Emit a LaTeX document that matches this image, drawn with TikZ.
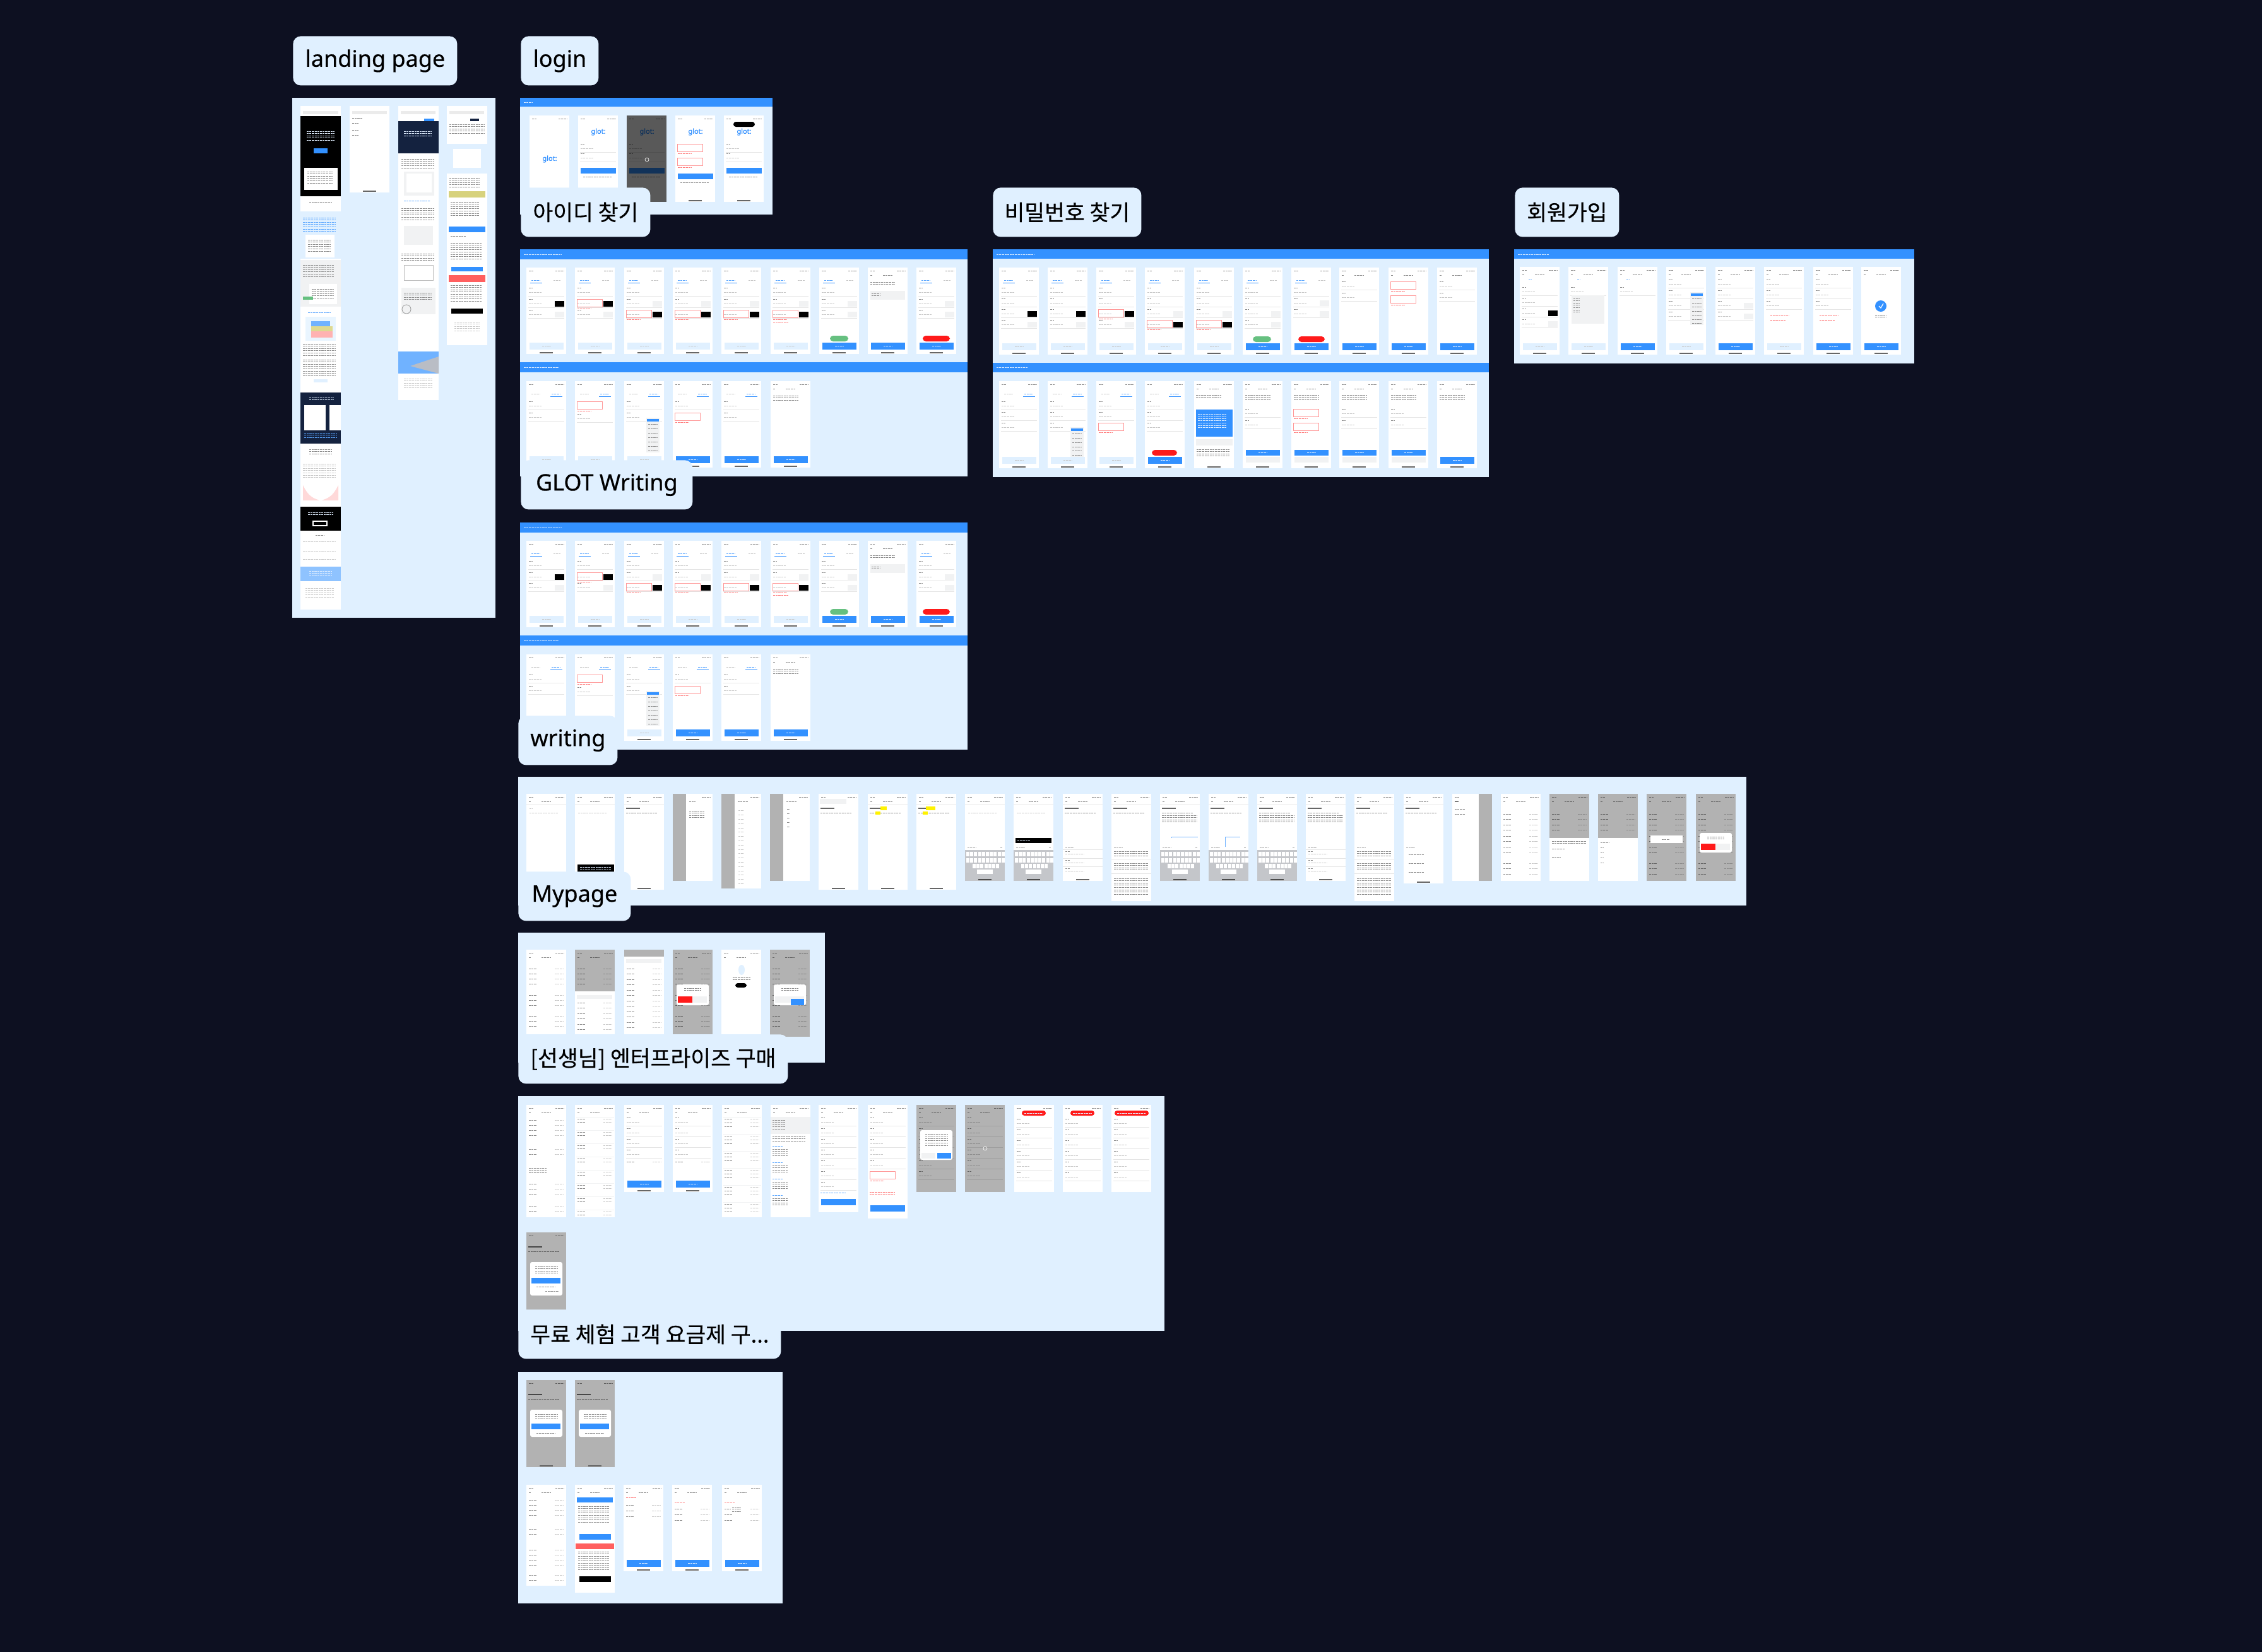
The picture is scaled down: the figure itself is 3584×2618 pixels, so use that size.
\documentclass[tikz,border=0pt]{standalone}
\usepackage{fontspec}
\setmainfont{Noto Sans}[FakeBold=0.5]
\newfontfamily\kofont{Noto Sans CJK KR}[FakeBold=0.5]
\newfontfamily\logofont{Noto Sans}[FakeBold=0.6]

\definecolor{board}{HTML}{0D1021}
\definecolor{panel}{HTML}{E0F0FF}
\definecolor{accent}{HTML}{3391FF}
\definecolor{ink}{HTML}{3A3A3A}
\definecolor{ghost}{HTML}{F1F2F3}
\definecolor{alert}{HTML}{FF1A1A}
\definecolor{okgreen}{HTML}{66C080}
\definecolor{navy}{HTML}{14223F}
\definecolor{kbd}{HTML}{C4C6CA}

\tikzset{
  boardlabel/.style={fill=panel,rounded corners=6pt,anchor=north west,minimum height=39pt,minimum width=#1,inner xsep=0pt,inner ysep=0pt,text=black,font=\fontsize{18}{20}\selectfont},
  kolabel/.style={boardlabel=#1,font=\kofont\fontsize{17.3}{20}\selectfont},
  logomark/.style={text=accent,inner sep=0pt,font=\logofont\fontsize{5.5}{6}\selectfont},
  txt/.style={line width=.45pt,color=black!45,dash pattern=on 1.6pt off .5pt},
  ltxt/.style={line width=.4pt,color=black!22,dash pattern=on 1.6pt off .5pt},
  rtxt/.style={line width=.45pt,color=alert!60,dash pattern=on 1.6pt off .5pt},
  btxt/.style={line width=.5pt,color=accent!80,dash pattern=on 1.6pt off .5pt},
  wtxt/.style={line width=.5pt,color=white!85!accent,dash pattern=on 1.6pt off .5pt},
  hair/.style={line width=.25pt,color=black!10},
  errline/.style={line width=.25pt,color=alert!45}
}

\def\phw{63}
\newcommand\phone[4]{%
  \begin{scope}[shift={(#1,#2)}]
    \def\ph{#3}
    \fill[white] (0,0) rectangle (\phw,#3);
    \draw[txt] (4,5) -- ++(7,0);
    \draw[txt] (46,5) -- ++(13,0);
    #4
  \end{scope}}
\newcommand\titlebar{\draw[txt] (4,12) -- ++(3,0); \draw[txt] (24,12) -- ++(15,0);}
\newcommand\homebar{\fill[black!60] (21,\ph-3) rectangle ++(21,2);}
\newcommand\mainbtn[1][accent]{\fill[#1] (5,\ph-18) rectangle ++(54,11); \draw[wtxt] (25,\ph-12.5) -- ++(13,0); \homebar}
\newcommand\palebtn{\fill[panel] (5,\ph-18) rectangle ++(54,11); \draw[ltxt] (25,\ph-12.5) -- ++(13,0); \homebar}
\newcommand\twobtn{\fill[accent] (5,109) rectangle ++(54,9); \draw[wtxt] (25,113.5) -- ++(13,0); \fill[ghost] (5,120) rectangle ++(54,9); \homebar}
\newcommand\tabsleft{\draw[btxt] (8,20) -- ++(14,0); \draw[line width=.4pt,accent] (6,24) -- ++(19,0); \draw[ltxt] (43,20) -- ++(11,0);}
\newcommand\tabsright{\draw[ltxt] (8,20) -- ++(14,0); \draw[btxt] (40,20) -- ++(14,0); \draw[line width=.4pt,accent] (38,24) -- ++(19,0);}
\newcommand\fieldrow[1]{\draw[txt] (4,#1) -- ++(6,0); \draw[ltxt] (4,#1+7) -- ++(20,0); \draw[hair] (3,#1+13) -- ++(57,0);}
\newcommand\blackbtn[1]{\fill[black] (45,#1) rectangle ++(15,9);}
\newcommand\greybtn[1]{\fill[ghost] (45,#1) rectangle ++(15,9);}
\newcommand\errfield[1]{\draw[errline] (3,#1) rectangle ++(40,12); \draw[rtxt] (4,#1+15) -- ++(22,0);}
\newcommand\pill[3]{\fill[#1,rounded corners=2.5pt] (#2,\ph-29) rectangle (#3,\ph-20);}
\newcommand\textblock[5][txt]{\foreach \tk in {1,...,#4} \draw[#1] (#2,{#3+(\tk-1)*3.6}) -- ++(#5,0);}
\newcommand\dropmenu[4]{\fill[ghost] (#1,#2) rectangle ++(#3,#4); \fill[accent] (#1+1,#2+2) rectangle ++(#3-2,4); \foreach \dk in {1,...,7} \draw[txt] (#1+3,{#2+4+\dk*#4/8}) -- ++(#3-6,0);}
\newcommand\dimmer{\fill[black,fill opacity=.3] (0,0) rectangle (\phw,\ph);}
\newcommand\dialog[3]{\fill[white,rounded corners=1.5pt] (6,#1) rectangle (57,#1+#2); \textblock{18}{#1+6}{2}{27}\fill[#3] (8,#1+#2-14) rectangle ++(23,10); \fill[ghost] (31,#1+#2-14) rectangle ++(23,10);}
\newcommand\keyboard{\fill[kbd] (0,89) rectangle (\phw,\ph); \draw[txt] (4,84) -- ++(14,0); \draw[txt] (56,84) -- ++(3,0);
  \foreach \ky in {92,102} \foreach \kx in {2,8.2,...,58} \fill[white] (\kx,\ky) rectangle ++(5,7);
  \foreach \kx in {12,18.2,...,50} \fill[white] (\kx,111) rectangle ++(5,7);
  \fill[white] (19,120) rectangle ++(25,7); \fill[black!70] (21,\ph-3) rectangle ++(21,2);}
\newcommand\docbar{\titlebar\draw[hair] (0,17) -- ++(\phw,0);}
\newcommand\dochead{\fill[black!60] (3,22) rectangle ++(22,2); \draw[txt] (3,30) -- ++(50,0);}
\newcommand\drawer{\fill[black!30] (0,0) rectangle (21,\ph); \draw[txt] (26,12) -- ++(10,0);\textblock{26}{27}{4}{24}}
\newcommand\listrows[3]{\foreach \lk in {1,...,#2} {\draw[txt] (4,{#1+(\lk-1)*#3}) -- ++(12,0); \draw[ltxt] (45,{#1+(\lk-1)*#3}) -- ++(14,0);}}
\newcommand\idrowone{\tabsleft\fieldrow{32}\fieldrow{50}\fieldrow{67}}

\newcommand\glotpanel[1]{%
  \begin{scope}[shift={(824,#1)}]
    \fill[panel] (0,0) rectangle (709,360);
    \fill[accent] (0,0) rectangle (709,16);
    \fill[accent] (0,179) rectangle (709,195);
    \draw[wtxt] (6,8) -- ++(60,0);
    \draw[wtxt] (6,187) -- ++(55,0);
    \phone{10}{29}{137}{\idrowone\blackbtn{53}\greybtn{70}\palebtn}
    \phone{87}{29}{137}{\idrowone\errfield{50}\blackbtn{53}\greybtn{70}\palebtn}
    \phone{165}{29}{137}{\idrowone\greybtn{53}\errfield{67}\blackbtn{70}\palebtn}
    \phone{242}{29}{137}{\idrowone\greybtn{53}\errfield{67}\blackbtn{70}\palebtn}
    \phone{319}{29}{137}{\idrowone\greybtn{53}\errfield{67}\blackbtn{70}\palebtn}
    \phone{397}{29}{137}{\idrowone\greybtn{53}\errfield{67}\draw[rtxt] (4,86) -- ++(25,0);\blackbtn{70}\palebtn}
    \phone{474}{29}{137}{\idrowone\greybtn{53}\greybtn{70}\pill{okgreen}{17}{46}\mainbtn}
    \phone{551}{29}{137}{\titlebar\textblock{4}{23}{2}{38}\fill[ghost] (4,37) rectangle ++(55,14);\textblock{6}{41}{2}{14}\mainbtn}
    \phone{628}{29}{137}{\idrowone\greybtn{53}\greybtn{70}\pill{alert}{10}{53}\mainbtn}
    \phone{10}{209}{137}{\tabsright\fieldrow{32}\fieldrow{50}\palebtn}
    \phone{87}{209}{137}{\tabsright\errfield{32}\fieldrow{52}\palebtn}
    \phone{165}{209}{137}{\tabsright\fieldrow{32}\fieldrow{50}\dropmenu{35}{58}{21}{55}\palebtn}
    \phone{242}{209}{137}{\tabsright\fieldrow{32}\errfield{50}\mainbtn}
    \phone{319}{209}{137}{\tabsright\fieldrow{32}\fieldrow{50}\mainbtn}
    \phone{397}{209}{137}{\titlebar\textblock{4}{23}{3}{40}\mainbtn}
  \end{scope}}

\newcommand\pwfields{\tabsleft\fieldrow{32}\fieldrow{49}\fieldrow{66}\fieldrow{83}}
\newcommand\pwtwo{\titlebar\fieldrow{22}\fieldrow{40}}
\newcommand\pwfour{\titlebar\textblock{4}{22}{3}{40}\fieldrow{44}\fieldrow{62}\twobtn}

\begin{document}
\begin{tikzpicture}[x=.5pt,y=-.5pt]
\useasboundingbox (0,0) rectangle (3584,2618);
\fill[board] (0,0) rectangle (3584,2618);

\fill[panel] (463,155) rectangle (785,979);
\fill[white] (476,168) rectangle ++(64,798);
\fill[white] (554,168) rectangle ++(63,137);
\fill[white] (631,168) rectangle ++(64,466);
\fill[white] (708,168) rectangle ++(64,379);
\fill[black!8] (480,176) rectangle ++(56,5);
\fill[black!8] (558,176) rectangle ++(55,5);
\fill[black!8] (635,176) rectangle ++(55,5);
\fill[black!8] (712,176) rectangle ++(55,5);
\fill[black] (476,184) rectangle ++(64,127);
\textblock[wtxt]{486}{208}{5}{44}
\fill[accent] (497,235) rectangle ++(22,8);
\fill[white] (482,266) rectangle ++(53,35);
\textblock{487}{272}{6}{40}
\draw[txt] (490,320) -- ++(36,0);
\fill[panel] (476,335) rectangle ++(64,75);
\textblock[btxt]{480}{345}{7}{52}
\fill[white] (484,372) rectangle ++(46,36);
\textblock{488}{380}{6}{36}
\fill[ghost] (476,412) rectangle ++(64,74);
\textblock{480}{420}{6}{50}
\fill[white] (490,450) rectangle ++(44,32);
\textblock{494}{458}{5}{34}
\fill[okgreen] (480,470) rectangle ++(16,5);
\draw[btxt] (488,495) -- ++(36,0);
\fill[panel!70!white] (484,502) rectangle ++(48,38);
\fill[accent!70] (493,509) rectangle ++(30,8);
\fill[yellow!70!black!50!white] (493,517) rectangle ++(34,8);
\fill[red!30] (493,525) rectangle ++(34,10);
\textblock{480}{545}{6}{52}
\textblock{480}{570}{8}{52}
\fill[panel] (497,601) rectangle ++(22,5);
\fill[navy] (476,622) rectangle ++(64,81);
\fill[white] (482,642) rectangle ++(34,40);
\fill[white] (522,642) rectangle ++(18,40);
\textblock[wtxt]{490}{630}{2}{38}
\textblock[btxt]{482}{686}{3}{52}
\textblock{490}{712}{3}{36}
\textblock[ltxt]{480}{735}{7}{52}
\fill[red!15] (480,769) .. controls (490,790) and (500,790) .. (506,793) -- (480,793) -- cycle;
\fill[red!15] (536,769) .. controls (526,790) and (516,790) .. (510,793) -- (536,793) -- cycle;
\fill[black] (476,803) rectangle ++(64,38);
\textblock[wtxt]{488}{812}{2}{40}
\draw[white,line width=.6pt] (496,826) rectangle ++(22,7);
\draw[txt] (500,848) -- ++(14,0);
\foreach \k in {858,873,886} \draw[ltxt] (480,\k) -- ++(52,0);
\fill[accent!55] (476,898) rectangle ++(64,23);
\textblock[wtxt]{490}{905}{3}{36}
\textblock[ltxt]{484}{932}{5}{46}
\draw[txt] (558,187) -- ++(16,0);
\foreach \k in {195,206,214} \draw[txt] (558,\k) -- ++(10,0);
\fill[black!60] (575,302) rectangle ++(21,2);
\fill[navy] (631,192) rectangle ++(64,51);
\textblock[wtxt]{640}{208}{3}{44}
\fill[accent] (672,188) rectangle ++(16,4);
\textblock{636}{252}{5}{52}
\fill[ghost] (640,272) rectangle ++(48,38);
\fill[white] (644,275) rectangle ++(40,30);
\draw[btxt] (640,318) -- ++(42,0);
\textblock{636}{330}{6}{52}
\fill[ghost] (640,358) rectangle ++(46,30);
\textblock{636}{402}{4}{52}
\fill[white] (640,420) rectangle ++(46,24);
\draw[line width=.3pt,black!25] (640,420) rectangle ++(46,24);
\fill[ghost] (636,456) rectangle ++(54,42);
\textblock{640}{464}{4}{44}
\draw[black!40,line width=.4pt] (644,490) circle (7);
\fill[accent!70] (631,557) rectangle ++(64,35);
\fill[navy!30] (650,580) -- (695,565) -- (695,592) -- cycle;
\textblock[ltxt]{640}{600}{5}{46}
\fill[navy] (745,188) rectangle ++(14,4);
\textblock{712}{197}{5}{56}
\fill[panel] (708,228) rectangle ++(64,47);
\fill[white] (718,236) rectangle ++(44,30);
\textblock{712}{282}{5}{48}
\fill[yellow!70!black!60!white] (711,303) rectangle ++(58,10);
\textblock{714}{320}{7}{46}
\fill[accent] (711,359) rectangle ++(58,9);
\draw[txt] (714,374) -- ++(24,0);
\textblock{714}{385}{8}{50}
\fill[accent] (715,423) rectangle ++(50,7);
\fill[alert!70] (711,436) rectangle ++(58,11);
\textblock{714}{452}{8}{50}
\fill[black] (715,489) rectangle ++(50,8);
\textblock[ltxt]{720}{510}{5}{40}

\fill[panel] (824,155) rectangle (1224,340);
\fill[accent] (824,155) rectangle (1224,169);
\draw[wtxt] (830,162) -- ++(14,0);
\phone{839}{183}{137}{\node[logomark] (logoa) at (32,69) {glot:};}
\phone{916}{183}{137}{\node[logomark] (logob) at (32,26) {glot:};\fieldrow{45}\fieldrow{60}\fill[accent] (4,83) rectangle ++(56,9);\draw[txt] (8,97) -- ++(46,0);\homebar}
\phone{993}{183}{137}{\node[logomark] (logoc) at (32,26) {glot:};\fieldrow{45}\fieldrow{60}\fill[accent] (4,83) rectangle ++(56,9);\draw[txt] (8,97) -- ++(46,0);\fill[black,fill opacity=.65] (0,0) rectangle (\phw,\ph);\draw[white,line width=.3pt] (32,70) circle (3);}
\phone{1070}{183}{137}{\node[logomark] (logod) at (32,26) {glot:};\errfield{45}\errfield{67}\fill[accent] (4,92) rectangle ++(56,9);\draw[txt] (8,106) -- ++(46,0);\homebar}
\phone{1147}{183}{137}{\fill[black,rounded corners=2pt] (15,10) rectangle ++(34,8);\node[logomark] (logoe) at (32,26) {glot:};\fieldrow{45}\fieldrow{60}\fill[accent] (4,83) rectangle ++(56,9);\draw[txt] (8,97) -- ++(46,0);\homebar}

\glotpanel{395}
\glotpanel{828}

\begin{scope}[shift={(1573,395)}]
\fill[panel] (0,0) rectangle (786,361);
\fill[accent] (0,0) rectangle (786,15);
\fill[accent] (0,180) rectangle (786,195);
\draw[wtxt] (6,8) -- ++(60,0);
\draw[wtxt] (6,187) -- ++(50,0);
\phone{10}{29}{138}{\pwfields\blackbtn{69}\greybtn{86}\palebtn}
\phone{87}{29}{138}{\pwfields\blackbtn{69}\greybtn{86}\palebtn}
\phone{164}{29}{138}{\pwfields\errfield{66}\blackbtn{69}\greybtn{86}\palebtn}
\phone{241}{29}{138}{\pwfields\greybtn{69}\errfield{83}\blackbtn{86}\palebtn}
\phone{319}{29}{138}{\pwfields\greybtn{69}\errfield{83}\blackbtn{86}\palebtn}
\phone{396}{29}{138}{\pwfields\greybtn{69}\greybtn{86}\pill{okgreen}{16}{45}\mainbtn}
\phone{473}{29}{138}{\tabsleft\fieldrow{32}\fieldrow{49}\fieldrow{66}\greybtn{69}\greybtn{52}\pill{alert}{11}{53}\mainbtn}
\phone{549}{29}{138}{\pwtwo\mainbtn}
\phone{627}{29}{138}{\titlebar\errfield{22}\errfield{44}\mainbtn}
\phone{704}{29}{138}{\pwtwo\mainbtn}
\phone{10}{209}{138}{\tabsright\fieldrow{32}\fieldrow{49}\fieldrow{66}\palebtn}
\phone{87}{209}{138}{\tabsright\fieldrow{32}\fieldrow{49}\fieldrow{66}\dropmenu{36}{73}{21}{54}\palebtn}
\phone{164}{209}{138}{\tabsright\fieldrow{32}\fieldrow{49}\errfield{66}\palebtn}
\phone{241}{209}{138}{\tabsright\fieldrow{32}\fieldrow{49}\fieldrow{66}\pill{alert}{11}{51}\mainbtn}
\phone{319}{209}{138}{\titlebar\textblock{3}{22}{2}{40}\fill[accent] (3,45) rectangle ++(58,43);\textblock[wtxt]{6}{52}{7}{46}\fill[ghost] (3,92) rectangle ++(58,10);\textblock{4}{108}{4}{52}\homebar}
\phone{396}{209}{138}{\pwfour}
\phone{473}{209}{138}{\titlebar\textblock{4}{22}{3}{40}\errfield{44}\errfield{66}\twobtn}
\phone{549}{209}{138}{\pwfour}
\phone{627}{209}{138}{\pwfour}
\phone{704}{209}{138}{\titlebar\textblock{4}{22}{3}{40}\mainbtn}
\end{scope}

\begin{scope}[shift={(2399,395)}]
\fill[panel] (0,0) rectangle (634,181);
\fill[accent] (0,0) rectangle (634,15);
\draw[wtxt] (6,8) -- ++(50,0);
\phone{9}{28}{139}{\titlebar\draw[btxt] (14,20) -- ++(5,0);\fieldrow{32}\fieldrow{49}\fieldrow{66}\fieldrow{83}\blackbtn{69}\greybtn{86}\palebtn}
\phone{86}{28}{139}{\titlebar\draw[btxt] (14,20) -- ++(5,0);\fieldrow{32}\fill[ghost] (5,45) rectangle ++(52,45);\textblock{8}{50}{7}{10}\palebtn}
\phone{164}{28}{139}{\titlebar\draw[btxt] (14,20) -- ++(5,0);\fieldrow{32}\mainbtn}
\phone{241}{28}{139}{\titlebar\fieldrow{20}\fieldrow{37}\fieldrow{54}\fieldrow{71}\dropmenu{38}{40}{21}{52}\palebtn}
\phone{319}{28}{139}{\titlebar\fieldrow{20}\fieldrow{37}\fieldrow{54}\fieldrow{71}\greybtn{57}\greybtn{74}\mainbtn}
\phone{396}{28}{139}{\titlebar\fieldrow{20}\fieldrow{37}\fieldrow{54}\draw[rtxt] (10,77) -- ++(30,0);\draw[rtxt] (10,84) -- ++(24,0);\palebtn}
\phone{474}{28}{139}{\titlebar\fieldrow{20}\fieldrow{37}\fieldrow{54}\draw[rtxt] (10,77) -- ++(30,0);\draw[rtxt] (10,84) -- ++(24,0);\mainbtn}
\phone{550}{28}{139}{\titlebar\fill[accent] (31,62) circle (9);\draw[white,line width=.6pt] (28,62) -- (31,65) -- (35,58);\textblock{22}{76}{2}{18}\mainbtn}
\end{scope}

\fill[panel] (821,1231) rectangle (2767,1435);
\phone{834}{1258}{152}{\docbar\textblock[ltxt]{5}{23}{1}{5}\draw[ltxt] (5,30) -- ++(46,0);}
\phone{911}{1258}{152}{\docbar\draw[ltxt] (5,30) -- ++(46,0);\fill[black] (4,112) rectangle ++(58,13);\draw[wtxt] (8,116) -- ++(50,0);\draw[wtxt] (8,120) -- ++(50,0);}
\phone{989}{1258}{152}{\docbar\dochead\homebar}
\phone{1066}{1258}{138}{\drawer}
\phone{1143}{1258}{150}{\fill[black!30] (0,0) rectangle (21,\ph);\draw[txt] (26,12) -- ++(16,0);\foreach \k in {1,...,18} \draw[ltxt] (27,{20+\k*6.8}) -- ++(9,0);}
\phone{1220}{1258}{138}{\fill[black!30] (0,0) rectangle (21,\ph);\draw[txt] (26,12) -- ++(16,0);\foreach \k in {1,...,5} \draw[txt] (27,{17+\k*7}) -- ++(5,0);}
\phone{1297}{1258}{152}{\fill[ghost] (2,8) rectangle ++(42,8);\dochead\homebar}
\phone{1375}{1258}{152}{\docbar\dochead\fill[yellow] (20,20) rectangle ++(10,6);\fill[yellow] (12,28) rectangle ++(8,5);\homebar}
\phone{1452}{1258}{152}{\docbar\dochead\fill[yellow] (15,20) rectangle ++(15,6);\fill[yellow] (10,28) rectangle ++(8,5);\homebar}
\phone{1529}{1258}{138}{\docbar\draw[ltxt] (5,30) -- ++(46,0);\keyboard}
\phone{1606}{1258}{138}{\docbar\draw[ltxt] (5,30) -- ++(46,0);\fill[black] (3,70) rectangle ++(57,8);\draw[wtxt] (6,74) -- ++(20,0);\keyboard}
\phone{1684}{1258}{138}{\docbar\dochead\draw[txt] (4,84) -- ++(14,0);\foreach \k in {91,105,118} {\draw[hair] (0,\k-3) -- ++(\phw,0);\draw[txt] (4,\k) -- ++(8,0);\draw[ltxt] (4,\k+4) -- ++(30,0);}\homebar}
\phone{1761}{1258}{170}{\docbar\dochead\draw[txt] (4,84) -- ++(14,0);\textblock{4}{91}{3}{54}\draw[hair] (0,103) -- ++(\phw,0);\textblock{4}{110}{4}{54}\draw[hair] (0,126) -- ++(\phw,0);\textblock{4}{134}{8}{54}}
\phone{1838}{1258}{138}{\docbar\dochead\textblock{3}{34}{4}{56}\keyboard\draw[accent!70,line width=.2pt] (18,70) -- (18,68) -- (60,68);}
\phone{1915}{1258}{138}{\docbar\dochead\keyboard\draw[accent!70,line width=.2pt] (26,84) -- (26,68) -- (50,68);}
\phone{1992}{1258}{138}{\docbar\dochead\textblock{3}{34}{4}{56}\keyboard}
\phone{2069}{1258}{138}{\docbar\dochead\textblock{3}{34}{4}{56}\draw[txt] (4,84) -- ++(14,0);\foreach \k in {91,105,118} {\draw[hair] (0,\k-3) -- ++(\phw,0);\draw[txt] (4,\k) -- ++(8,0);\draw[ltxt] (4,\k+4) -- ++(30,0);}\homebar}
\phone{2146}{1258}{170}{\docbar\dochead\draw[txt] (4,84) -- ++(14,0);\textblock{4}{91}{3}{54}\draw[hair] (0,103) -- ++(\phw,0);\textblock{4}{110}{4}{54}\draw[hair] (0,126) -- ++(\phw,0);\textblock{4}{134}{8}{54}}
\phone{2224}{1258}{142}{\docbar\dochead\draw[txt] (4,84) -- ++(14,0);\foreach \k in {96,110,124} \draw[txt] (8,\k) -- ++(24,0);\homebar}
\phone{2301}{1258}{138}{\fill[black!30] (42,0) rectangle (\phw,\ph);\draw[ink] (4,12) -- ++(6,0);\foreach \k in {24,32} \draw[txt] (4,\k) -- ++(16,0);}
\phone{2378}{1258}{138}{\titlebar\listrows{32}{4}{8.5}\listrows{67}{4}{8.5}\listrows{110}{3}{8.5}}
\phone{2455}{1258}{138}{\titlebar\listrows{32}{4}{8.5}\dimmer\fill[white] (0,70) rectangle (\phw,\ph);\textblock{4}{75}{2}{54}\draw[txt] (4,87) -- ++(20,0);\draw[txt] (4,100) -- ++(14,0);}
\phone{2532}{1258}{138}{\titlebar\listrows{32}{4}{8.5}\dimmer\fill[white] (0,70) rectangle (\phw,\ph);\draw[txt] (4,77) -- ++(14,0);\foreach \k in {85,93,101,109} \draw[txt] (4,\k) -- ++(5,0);}
\phone{2609}{1258}{138}{\titlebar\listrows{32}{4}{8.5}\listrows{67}{4}{8.5}\listrows{110}{3}{8.5}\dimmer\fill[white] (6,66) rectangle ++(51,12);\draw[txt] (24,72) -- ++(12,0);}
\phone{2687}{1258}{138}{\titlebar\listrows{32}{4}{8.5}\listrows{67}{4}{8.5}\listrows{110}{3}{8.5}\dimmer\dialog{62}{31}{alert}}

\fill[panel] (821,1478) rectangle (1307,1684);
\phone{834}{1505}{134}{\titlebar\listrows{30}{4}{8}\listrows{72}{3}{8}\listrows{105}{3}{8}}
\phone{911}{1505}{134}{\titlebar\listrows{30}{4}{8}\dimmer\fill[white] (0,66) rectangle (\phw,\ph);\fill[ghost] (3,72) rectangle ++(56,6);\listrows{84}{6}{8.5}}
\phone{989}{1505}{134}{\fill[black!30] (0,0) rectangle (\phw,\ph);\fill[white] (0,11) rectangle (\phw,\ph);\fill[ghost] (3,15) rectangle ++(56,6);\listrows{30}{12}{8.5}}
\phone{1066}{1505}{134}{\titlebar\listrows{30}{4}{8}\listrows{72}{3}{8}\listrows{105}{3}{8}\dimmer\dialog{55}{33}{alert}}
\phone{1143}{1505}{134}{\titlebar\fill[panel] (32,32) ellipse (5 and 8);\textblock{18}{44}{2}{28}\fill[black,rounded corners=2pt] (22,53) rectangle ++(18,7);}
\phone{1220}{1505}{138}{\titlebar\listrows{30}{4}{8}\listrows{72}{3}{8}\listrows{105}{3}{8}\dimmer\dialog{55}{33}{ghost}\fill[accent] (33,78) rectangle ++(21,10);}

\fill[panel] (821,1737) rectangle (1845,2109);
\phone{834}{1751}{178}{\titlebar\listrows{24}{4}{8}\listrows{70}{2}{8}\textblock{4}{100}{3}{28}\listrows{125}{3}{8}\listrows{160}{2}{8}}
\phone{911}{1751}{178}{\titlebar\foreach \k in {0,1,...,7} {\fill[ghost] (2,{19+\k*21}) rectangle ++(60,0.8);\listrows{22+\k*21}{2}{5}}}
\phone{989}{1751}{138}{\titlebar\fieldrow{20}\fieldrow{37}\fieldrow{54}\fieldrow{71}\listrows{90}{1}{5}\mainbtn}
\phone{1066}{1751}{138}{\titlebar\fieldrow{20}\fieldrow{37}\fieldrow{54}\fieldrow{71}\listrows{90}{1}{5}\mainbtn}
\phone{1144}{1751}{178}{\titlebar\foreach \k in {0,1,...,5} {\fill[ghost] (2,{19+\k*27}) rectangle ++(60,0.8);\listrows{22+\k*27}{3}{6}}}
\phone{1221}{1751}{178}{\titlebar\fill[ghost] (0,19) rectangle (\phw,46);\textblock{3}{24}{5}{20}\textblock{3}{50}{3}{52}\foreach \k in {65,91,117,143} {\draw[btxt] (3,\k) -- ++(16,0);\textblock{3}{\k+5}{4}{24}}}
\phone{1297}{1751}{170}{\titlebar\fieldrow{20}\fieldrow{37}\fieldrow{54}\fieldrow{71}\fieldrow{88}\fieldrow{105}\fieldrow{122}\textblock[btxt]{3}{139}{1}{40}\fill[accent] (4,149) rectangle ++(55,10);}
\phone{1375}{1751}{180}{\titlebar\fieldrow{20}\fieldrow{37}\fieldrow{54}\fieldrow{71}\fieldrow{88}\errfield{105}\textblock[rtxt]{3}{138}{2}{40}\fill[accent] (4,159) rectangle ++(55,10);}
\phone{1452}{1751}{138}{\titlebar\fieldrow{20}\fieldrow{37}\fieldrow{54}\fieldrow{71}\fieldrow{88}\fieldrow{105}\dimmer\fill[white,rounded corners=1.5pt] (6,40) rectangle ++(51,47);\textblock{14}{46}{6}{36}\fill[ghost] (8,76) rectangle ++(22,9);\fill[accent] (33,76) rectangle ++(22,9);}
\phone{1529}{1751}{138}{\titlebar\fieldrow{20}\fieldrow{37}\fieldrow{54}\fieldrow{71}\fieldrow{88}\fieldrow{105}\dimmer\draw[white,line width=.3pt] (32,69) circle (3);}
\phone{1607}{1751}{138}{\fill[alert,rounded corners=2pt] (12,9) rectangle ++(38,8);\draw[wtxt] (16,13) -- ++(30,0);\fieldrow{22}\fieldrow{39}\fieldrow{56}\fieldrow{73}\fieldrow{90}\fieldrow{107}}
\phone{1684}{1751}{138}{\fill[alert,rounded corners=2pt] (12,9) rectangle ++(38,8);\draw[wtxt] (16,13) -- ++(30,0);\fieldrow{22}\fieldrow{39}\fieldrow{56}\fieldrow{73}\fieldrow{90}\fieldrow{107}}
\phone{1761}{1751}{138}{\fill[alert,rounded corners=2pt] (5,9) rectangle ++(54,8);\draw[wtxt] (9,13) -- ++(46,0);\fieldrow{22}\fieldrow{39}\fieldrow{56}\fieldrow{73}\fieldrow{90}\fieldrow{107}}
\phone{834}{1953}{123}{\dochead\dimmer\fill[white,rounded corners=1.5pt] (6,47) rectangle ++(51,53);\textblock{14}{54}{4}{36}\fill[accent] (8,72) rectangle ++(46,9);\draw[txt] (16,86) -- ++(30,0);\draw[txt] (30,93) -- ++(22,0);}

\fill[panel] (821,2174) rectangle (1240,2541);
\foreach \k in {834,911} {\phone{\k}{2187}{138}{\dochead\dimmer\fill[white,rounded corners=1.5pt] (6,47) rectangle ++(51,43);\textblock{14}{54}{3}{36}\fill[accent] (8,69) rectangle ++(46,9);\draw[txt] (16,84) -- ++(30,0);\fill[black!60] (21,135) rectangle ++(21,2);}}
\phone{834}{2353}{160}{\titlebar\listrows{24}{4}{8}\listrows{70}{2}{8}\listrows{103}{4}{8}\listrows{143}{2}{8}}
\phone{911}{2353}{171}{\titlebar\fill[accent] (3,20) rectangle ++(57,8);\textblock{5}{34}{8}{50}\fill[accent] (7,78) rectangle ++(50,9);\fill[alert!70] (1,93) rectangle ++(61,9);\textblock{5}{106}{9}{50}\fill[black] (7,145) rectangle ++(50,9);}
\phone{988}{2353}{137}{\titlebar\draw[rtxt] (4,20) -- ++(16,0);\listrows{32}{3}{9}\mainbtn}
\phone{1065}{2353}{137}{\titlebar\draw[rtxt] (4,27) -- ++(16,0);\listrows{38}{3}{9}\mainbtn}
\phone{1144}{2353}{137}{\titlebar\draw[rtxt] (4,27) -- ++(16,0);\listrows{38}{3}{9}\fill[white] (14,32) rectangle ++(18,14);\textblock{16}{35}{3}{13}\mainbtn}

\node[boardlabel=130pt] (landinglabel) at (464,57) {landing page};
\node[boardlabel=61.5pt] (loginlabel) at (825,57) {login};
\node[kolabel=102.5pt] (findidlabel) at (825,297) {아이디 찾기};
\node[kolabel=117.5pt] (findpwlabel) at (1573,297) {비밀번호 찾기};
\node[kolabel=82.5pt] (signuplabel) at (2400,297) {회원가입};
\node[boardlabel=136pt] (writinglabelb) at (825,729) {GLOT Writing};
\node[boardlabel=78.5pt] (writinglabel) at (821,1134) {writing};
\node[boardlabel=89pt] (mypagelabel) at (821,1381) {Mypage};
\node[kolabel=213.5pt] (teacherlabel) at (821,1639) {[선생님] 엔터프라이즈 구매};
\node[kolabel=208pt] (triallabel) at (821,2075) {무료 체험 고객 요금제 구...};
\end{tikzpicture}
\end{document}
